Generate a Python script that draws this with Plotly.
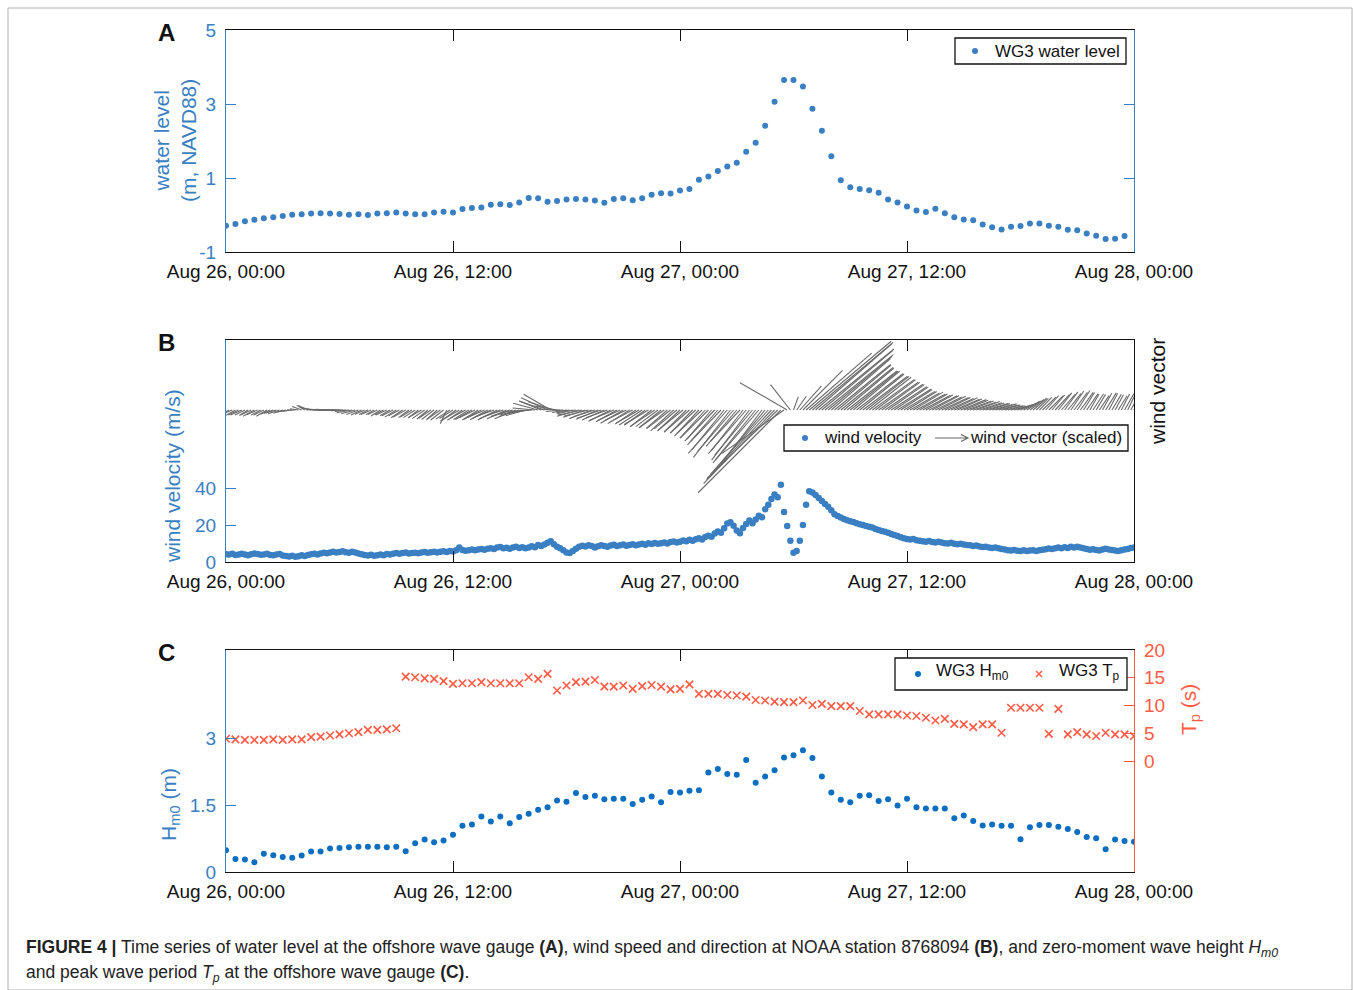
import numpy as np
import pandas as pd
import plotly.graph_objects as go

# ---------------------------------------------------------------- data
# WG3 water level (m, NAVD88), 30-min samples from Aug 26 00:00
water_level = [
    -0.29, -0.24, -0.17, -0.13, -0.09, -0.06, -0.03, 0.01, 0.02, 0.04,
    0.05, 0.04, 0.03, 0.01, 0.02, 0.00, 0.04, 0.05, 0.07, 0.04,
    0.02, 0.02, 0.07, 0.09, 0.07, 0.16, 0.19, 0.20, 0.28, 0.29,
    0.27, 0.34, 0.46, 0.45, 0.36, 0.38, 0.42, 0.43, 0.42, 0.39,
    0.33, 0.43, 0.45, 0.40, 0.45, 0.55, 0.59, 0.58, 0.66, 0.70,
    0.95, 1.04, 1.19, 1.31, 1.41, 1.71, 1.95, 2.41, 3.06, 3.65,
    3.65, 3.47, 2.87, 2.28, 1.59, 0.94, 0.75, 0.70, 0.67, 0.60,
    0.42, 0.34, 0.23, 0.12, 0.08, 0.17, 0.05, -0.06, -0.12, -0.14,
    -0.26, -0.33, -0.39, -0.32, -0.30, -0.23, -0.23, -0.29, -0.32, -0.40,
    -0.41, -0.50, -0.56, -0.65, -0.64, -0.57,
]

# wind speed (m/s), 10-min samples, one row per hour
wind_speed = [
    4.2, 4.0, 4.5, 3.8, 4.1, 4.4,
    4.0, 3.7, 4.2, 4.6, 4.3, 3.9,
    4.1, 4.4, 3.8, 3.6, 4.0, 4.3,
    3.5, 3.2, 3.0, 3.4, 2.9, 3.1,
    3.6, 3.3, 3.8, 4.2, 4.5, 4.1,
    4.6, 5.0, 4.7, 5.2, 5.5, 5.1,
    5.4, 5.8, 5.3, 5.0, 5.6, 5.2,
    4.6, 4.2, 3.8, 3.5, 3.9, 3.4,
    3.7, 4.0, 3.6, 4.3, 4.1, 4.5,
    4.8, 4.4, 4.9, 5.1, 4.6, 4.9,
    5.0, 4.7, 5.2, 5.4, 5.0, 5.3,
    5.6, 5.2, 5.5, 5.8, 5.4, 6.0,
    5.7, 6.3, 7.8, 6.5, 6.1, 6.4,
    6.8, 6.3, 6.7, 7.0, 6.6, 7.2,
    7.5, 7.0, 7.8, 8.1, 7.4, 7.7,
    7.2, 7.9, 8.3, 7.6, 8.0, 7.4,
    7.8, 8.5, 8.0, 9.2, 8.6, 9.5,
    10.4, 11.2, 9.6, 8.2, 7.5, 6.3,
    5.2, 4.8, 5.9, 7.1, 8.2, 8.8,
    8.4, 9.0, 8.6, 7.9, 8.5, 9.1,
    8.7, 8.2, 8.9, 9.3, 8.6, 9.0,
    9.4, 8.8, 9.2, 9.6, 9.0, 9.5,
    9.8, 9.3, 10.1, 9.7, 10.3, 9.9,
    10.2, 10.6, 10.0, 10.8, 11.1, 10.5,
    11.0, 11.6, 11.2, 12.0, 11.5, 12.3,
    12.8, 12.2, 13.5, 14.2, 13.6, 15.4,
    16.5, 15.8, 18.2, 20.8, 21.5, 19.6,
    17.0, 15.5, 18.4, 20.6, 22.4, 21.0,
    23.0, 25.0, 24.2, 28.5, 31.0, 34.0,
    36.5, 35.0, 41.8, 27.0, 19.5, 11.5,
    5.0, 6.0, 11.5, 20.0, 31.0, 38.2,
    37.6, 36.2, 34.6, 33.0, 31.4, 29.8,
    28.0, 25.8, 24.9, 24.1, 23.2, 22.6,
    22.0, 21.6, 21.0, 20.4, 20.0, 19.5,
    19.0, 18.6, 17.9, 17.3, 16.8, 16.4,
    15.8, 15.2, 14.6, 14.0, 13.4, 12.9,
    12.5, 12.1, 12.4, 11.8, 11.5, 11.2,
    11.0, 11.3, 10.8, 10.5, 10.9, 10.6,
    10.2, 10.0, 10.4, 9.8, 9.6, 9.9,
    9.4, 9.2, 9.0, 8.6, 8.9, 8.4,
    8.1, 8.3, 7.8, 7.6, 7.9, 7.4,
    7.0, 6.8, 6.4, 6.2, 6.5, 6.1,
    6.0, 6.3, 5.9, 6.2, 6.4, 6.0,
    6.3, 6.6, 6.9, 7.3, 7.0, 7.5,
    7.8, 7.4, 8.0, 7.6, 8.2, 7.9,
    8.3, 7.8, 7.4, 7.0, 6.6, 6.9,
    6.5, 6.2, 6.8, 7.2, 6.8, 6.5,
    6.2, 6.0, 6.4, 6.7, 7.0, 7.6,
    7.8,
]

# direction the wind vector points on the page (deg, counter-clockwise from +x)
wind_dir = [
    205, 208, 203, 210, 206, 204,
    207, 212, 205, 209, 203, 208,
    206, 210, 204, 200, 196, 198,
    200, 195, 190, 188, 180, 172,
    160, 150, 155, 165, 172, 178,
    176, 178, 180, 177, 182, 179,
    181, 178, 183, 186, 190, 195,
    200, 205, 203, 208, 204, 210,
    206, 212, 208, 205, 210, 207,
    212, 208, 214, 210, 216, 211,
    213, 218, 210, 215, 220, 214,
    217, 222, 215, 218, 245, 213,
    212, 216, 210, 214, 208, 212,
    210, 206, 212, 208, 204, 209,
    205, 200, 207, 203, 198, 204,
    200, 196, 202, 198, 192, 196,
    190, 185, 175, 165, 158, 160,
    155, 150, 162, 170, 178, 185,
    190, 186, 194, 188, 196, 192,
    198, 194, 201, 197, 203, 199,
    204, 200, 207, 203, 209, 205,
    210, 206, 212, 208, 214, 210,
    213, 216, 211, 218, 214, 217,
    219, 215, 221, 218, 222, 220,
    223, 219, 225, 221, 226, 222,
    227, 223, 228, 225, 230, 226,
    229, 226, 231, 228, 232, 229,
    230, 227, 232, 229, 233, 230,
    231, 229, 233, 230, 228, 227,
    226, 224, 225, 215, 150, 128,
    70, 55, 48, 45, 41, 40,
    40, 41, 39, 40, 39, 40,
    41, 39, 40, 39, 40, 38,
    39, 40, 38, 39, 37, 38,
    38, 36, 37, 35, 36, 34,
    35, 33, 34, 32, 33, 31,
    32, 30, 31, 29, 30, 28,
    29, 27, 28, 26, 27, 25,
    26, 24, 25, 23, 24, 22,
    22, 20, 21, 19, 20, 18,
    18, 16, 17, 15, 16, 14,
    15, 13, 14, 12, 16, 19,
    23, 28, 33, 37, 41, 44,
    46, 44, 48, 45, 50, 47,
    52, 49, 54, 51, 56, 53,
    57, 54, 58, 55, 60, 57,
    59, 56, 61, 58, 62, 59,
    61, 58, 63, 60, 64, 62,
    63,
]

# WG3 zero-moment wave height (m) and peak period (s), 30-min samples
hm0 = [
    0.49, 0.29, 0.28, 0.22, 0.41, 0.38, 0.34, 0.32, 0.37, 0.46,
    0.46, 0.53, 0.54, 0.56, 0.57, 0.57, 0.57, 0.56, 0.57, 0.47,
    0.65, 0.73, 0.67, 0.71, 0.84, 1.04, 1.07, 1.25, 1.14, 1.25,
    1.10, 1.24, 1.31, 1.40, 1.46, 1.61, 1.58, 1.78, 1.69, 1.72,
    1.64, 1.65, 1.65, 1.53, 1.63, 1.70, 1.57, 1.80, 1.79, 1.83,
    1.84, 2.24, 2.32, 2.21, 2.19, 2.52, 2.01, 2.15, 2.29, 2.58,
    2.63, 2.74, 2.57, 2.15, 1.79, 1.63, 1.57, 1.72, 1.73, 1.60,
    1.64, 1.50, 1.65, 1.46, 1.43, 1.43, 1.43, 1.21, 1.27, 1.15,
    1.05, 1.07, 1.04, 1.04, 0.74, 1.01, 1.06, 1.06, 1.02, 0.97,
    0.90, 0.79, 0.76, 0.51, 0.73, 0.70, 0.68,
]
tp = [
    4.0, 3.9, 3.8, 3.8, 3.8, 3.9, 3.8, 3.9, 3.9, 4.3,
    4.4, 4.6, 4.8, 5.0, 5.2, 5.6, 5.6, 5.7, 5.9, 15.2,
    15.1, 14.9, 14.8, 14.4, 13.9, 14.0, 14.0, 14.2, 14.0, 14.0,
    14.0, 14.0, 15.1, 14.8, 15.7, 12.7, 13.6, 14.2, 14.3, 14.6,
    13.4, 13.4, 13.6, 13.0, 13.5, 13.7, 13.4, 12.9, 13.0, 13.8,
    12.1, 12.1, 12.1, 11.9, 11.8, 11.6, 11.0, 10.9, 10.7, 10.6,
    10.6, 10.9, 10.1, 10.3, 9.9, 9.9, 9.9, 9.0, 8.4, 8.4,
    8.4, 8.4, 8.2, 8.1, 7.8, 7.3, 7.6, 6.7, 6.6, 6.1,
    6.6, 6.6, 5.1, 9.6, 9.6, 9.6, 9.6, 4.9, 9.4, 4.8,
    5.2, 4.8, 4.5, 5.1, 4.8, 4.8, 4.5,
]

x_tick_times = ["2020-08-26 00:00", "2020-08-26 12:00", "2020-08-27 00:00",
                "2020-08-27 12:00", "2020-08-28 00:00"]

assert len(wind_speed) == len(wind_dir)

# ---------------------------------------------------------------- geometry
W, H = 1354, 990
X0, X1 = 226, 1134              # plot box, px
PANEL_Y = {"A": (30, 252), "B": (340, 562), "C": (650, 872)}
VEC_BASE = 410                  # baseline of wind vectors, px
VEC_SCALE = 2.8                 # px per (m/s)

BLUE_AX = "#3a7fc2"
BLUE_PT = "#3a7fc2"
BLUE_C = "#0b6ec0"
RED = "#ff5b45"
GREY = "#6a6a6a"
BLACK = "#111111"
FONT = "Liberation Sans, Arial, Helvetica, sans-serif"
TICK_FS = 19
TITLE_FS = 21


def fx(px):
    return px / W


def fy(py):
    return 1 - py / H


def ydom(key):
    top, bot = PANEL_Y[key]
    return [fy(bot), fy(top)]


t_start = pd.Timestamp(x_tick_times[0])
t_end = pd.Timestamp(x_tick_times[-1])
t_a = pd.date_range(t_start, periods=len(water_level), freq="30min")
t_c = pd.date_range(t_start, periods=len(hm0), freq="30min")
t_w = pd.date_range(t_start, periods=len(wind_speed), freq="10min")

# wind vectors: one segment per sample, starting on the baseline
px_per_hour = (X1 - X0) / 48.0
ang = np.deg2rad(np.asarray(wind_dir, float))
seg_len = VEC_SCALE * np.asarray(wind_speed, float)
dx_hours = seg_len * np.cos(ang) / px_per_hour
dy_px = seg_len * np.sin(ang)
vx, vy = [], []
for t, ddx, ddy in zip(t_w, dx_hours, dy_px):
    vx += [t, t + pd.Timedelta(hours=float(ddx)), None]
    vy += [0.0, float(ddy), None]

# ---------------------------------------------------------------- traces
fig = go.Figure()
fig.add_trace(go.Scatter(x=t_a, y=water_level, mode="markers", name="WG3 water level",
                         marker=dict(size=6, color=BLUE_PT), xaxis="x", yaxis="y"))
fig.add_trace(go.Scatter(x=t_w, y=wind_speed, mode="markers", name="wind velocity",
                         marker=dict(size=6.5, color=BLUE_PT), xaxis="x2", yaxis="y2"))
fig.add_trace(go.Scatter(x=vx, y=vy, mode="lines", name="wind vector (scaled)",
                         line=dict(color=GREY, width=1.1), xaxis="x2", yaxis="y3"))
fig.add_trace(go.Scatter(x=t_c, y=hm0, mode="markers", name="WG3 Hm0",
                         marker=dict(size=6, color=BLUE_C), xaxis="x3", yaxis="y4"))
fig.add_trace(go.Scatter(x=t_c, y=tp, mode="markers", name="WG3 Tp",
                         marker=dict(size=7.5, symbol="x-thin", color=RED,
                                     line=dict(width=1.6, color=RED)),
                         xaxis="x3", yaxis="y5"))

# ---------------------------------------------------------------- axes
xdom = [fx(X0), fx(X1)]
xcommon = dict(domain=xdom, range=[t_start, t_end], tickvals=x_tick_times,
               tickformat="%b %d, %H:%M", ticks="inside", ticklen=11, tickwidth=1.2,
               tickcolor=BLACK, showline=True, linecolor=BLACK, linewidth=1.2,
               mirror="ticks", showgrid=False, zeroline=False, automargin=False,
               tickfont=dict(size=TICK_FS, color=BLACK), ticklabelstandoff=2)


def yleft(color, **kw):
    d = dict(ticks="inside", ticklen=10, tickwidth=1.2, tickcolor=color, showline=True,
             linecolor=color, linewidth=1.2, showgrid=False, zeroline=False,
             automargin=False, tickfont=dict(size=TICK_FS, color=color),
             ticklabelstandoff=5)
    d.update(kw)
    return d


fig.update_layout(
    width=W, height=H, autosize=False,
    margin=dict(l=0, r=0, t=0, b=0, pad=0, autoexpand=False),
    paper_bgcolor="white", plot_bgcolor="white", showlegend=False,
    font=dict(family=FONT, size=18, color=BLACK),
    xaxis=dict(anchor="y", **xcommon),
    xaxis2=dict(anchor="y2", **xcommon),
    xaxis3=dict(anchor="y4", **xcommon),
    yaxis=yleft(BLUE_AX, domain=ydom("A"), anchor="x", range=[-1, 5],
                tickvals=[-1, 1, 3, 5], ticktext=["-1", "1", "3", "5"], mirror="ticks"),
    yaxis2=yleft(BLUE_AX, domain=ydom("B"), anchor="x2", range=[0, 120],
                 tickvals=[0, 20, 40]),
    yaxis3=dict(overlaying="y2", side="right", anchor="x2",
                range=[-(PANEL_Y["B"][1] - VEC_BASE), VEC_BASE - PANEL_Y["B"][0]],
                showline=True, linecolor=BLACK, linewidth=1.2, ticks="",
                showticklabels=False, showgrid=False, zeroline=False, automargin=False),
    yaxis4=yleft(BLUE_AX, domain=ydom("C"), anchor="x3", range=[0, 5],
                 tickvals=[0, 1.5, 3], ticktext=["0", "1.5", "3"]),
    yaxis5=yleft(RED, overlaying="y4", side="right", anchor="x3", range=[-20, 20],
                 tickvals=[0, 5, 10, 15, 20], ticklabelstandoff=5),
)

# ---------------------------------------------------------------- text
ann = []


def text(x, y, s, size=18, color=BLACK, angle=0, xanchor="center", **kw):
    ann.append(dict(x=fx(x), y=fy(y), xref="paper", yref="paper", text=s,
                    showarrow=False, textangle=angle, xanchor=xanchor,
                    yanchor="middle", font=dict(size=size, color=color, family=FONT),
                    **kw))


# panel letters
for key, y in (("A", 33), ("B", 342), ("C", 652)):
    text(166, y, f"<b>{key}</b>", size=24)

# axis titles
text(175, 141, "water level<br>(m, NAVD88)", size=TITLE_FS, color=BLUE_AX, angle=-90)
text(172, 476, "wind velocity (m/s)", size=TITLE_FS, color=BLUE_AX, angle=-90)
text(1157, 392, "wind vector", size=TITLE_FS, color=BLACK, angle=-90)
text(170, 805, "H<sub>m0</sub> (m)", size=TITLE_FS, color=BLUE_AX, angle=-90)
text(1190, 710, "T<sub>p</sub> (s)", size=TITLE_FS, color=RED, angle=-90)

# ---------------------------------------------------------------- legends
shapes = []


def box(x0, y0, x1, y1):
    shapes.append(dict(type="rect", xref="paper", yref="paper", x0=fx(x0), x1=fx(x1),
                       y0=fy(y1), y1=fy(y0), line=dict(color=BLACK, width=1.3),
                       fillcolor="white", layer="above"))


def dot(x, y, color, r=3):
    shapes.append(dict(type="circle", xref="paper", yref="paper", x0=fx(x - r),
                       x1=fx(x + r), y0=fy(y + r), y1=fy(y - r),
                       line=dict(color=color, width=0), fillcolor=color, layer="above"))


def path(points_list, color, width=1.2):
    d = ""
    for pts in points_list:
        d += "M " + " L ".join(f"{fx(px):.5f},{fy(py):.5f}" for px, py in pts) + " "
    shapes.append(dict(type="path", xref="paper", yref="paper", path=d.strip(),
                       line=dict(color=color, width=width), layer="above"))


# A
box(955, 38, 1126, 64)
dot(975, 51, BLUE_PT)
text(993, 51, "WG3 water level", size=17, xanchor="left")
# B
box(784, 425, 1128, 451)
dot(805, 438, BLUE_PT)
text(822, 438, "wind velocity", size=17, xanchor="left")
path([[(935, 438), (968, 438)], [(961, 434.5), (968, 438), (961, 441.5)]], GREY)
text(968, 438, "wind vector (scaled)", size=17, xanchor="left")
# C
box(895, 658, 1127, 690)
dot(918, 674, BLUE_C)
text(934, 672, "WG3 H<sub>m0</sub>", size=17, xanchor="left")
path([[(1036, 671), (1042, 677)], [(1036, 677), (1042, 671)]], RED, 1.5)
text(1057, 672, "WG3 T<sub>p</sub>", size=17, xanchor="left")

# outer frame
shapes.append(dict(type="rect", xref="paper", yref="paper", x0=fx(8), x1=fx(1352),
                   y0=0, y1=fy(8), line=dict(color="#b0b0b0", width=1),
                   layer="below"))

# caption
text(24, 948,
     "<b>FIGURE 4 |</b> Time series of water level at the offshore wave gauge <b>(A)</b>, "
     "wind speed and direction at NOAA station 8768094 <b>(B)</b>, and zero-moment wave "
     "height <i>H</i><sub><i>m0</i></sub>", size=17.5, color="#222222", xanchor="left")
text(24, 973,
     "and peak wave period <i>T</i><sub><i>p</i></sub> at the offshore wave gauge "
     "<b>(C)</b>.", size=17.5, color="#222222", xanchor="left")

fig.update_layout(annotations=ann, shapes=shapes)
fig.write_html("out.html", post_script="document.body.style.margin='0px';")
